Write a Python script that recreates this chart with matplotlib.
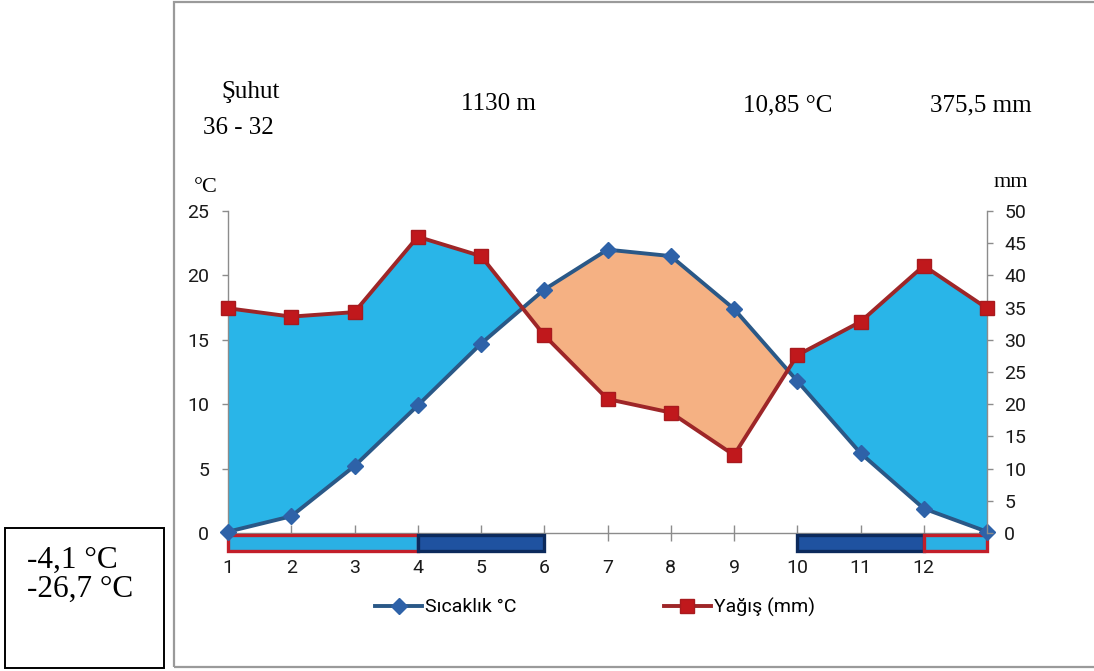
import matplotlib
matplotlib.use("Agg")
import matplotlib.pyplot as plt
from matplotlib.patches import Rectangle
import numpy as np

# Şuhut iklim diyagramı verileri (13. nokta = Ocak, yılı kapatmak için)
aylar = np.arange(1, 14)
sicaklik = [0.1, 1.3, 5.2, 9.9, 14.7, 18.9, 22.0, 21.5, 17.4, 11.8, 6.2, 1.9, 0.1]
yagis = [34.9, 33.6, 34.3, 46.0, 43.0, 30.7, 20.8, 18.7, 12.1, 27.6, 32.8, 41.5, 34.9]
ay_etiketleri = [str(i) for i in range(1, 13)]

# Don dönemleri (alttaki şeritler)
serit_bas = [1, 4, 10, 12]
serit_son = [4, 6, 12, 13]
serit_tur = ["acik", "koyu", "koyu", "acik"]

istasyon = "Şuhut"
koordinat = "36 - 32"
yukselti = "1130 m"
ort_sicaklik = "10,85 °C"
top_yagis = "375,5 mm"
uc_degerler = ["-4,1 °C", "-26,7 °C"]

serif = "Liberation Serif"
sans = "Roboto"
gri = "#8c8c8c"
mavi_dolgu = "#29b5e8"
turuncu_dolgu = "#f5b183"
etiket_boy = 14

fig = plt.figure(figsize=(10.94, 6.71), dpi=100)

# dış çerçeve ve sol kutu
fig.patches.append(Rectangle((174 / 1094, 4 / 671), 1.0, 665 / 671, transform=fig.transFigure,
                             fill=False, edgecolor="#9a9a9a", lw=1.6))
fig.patches.append(Rectangle((5 / 1094, 3 / 671), 159 / 1094, 140 / 671, transform=fig.transFigure,
                             fill=False, edgecolor="black", lw=1.4))

ax = fig.add_axes([228 / 1094, 138 / 671, 759 / 1094, 322 / 671])
ax2 = ax.twinx()

sic = np.array(sicaklik)
yag_olc = np.array(yagis) / 2.0  # yağış, sıcaklık ölçeğinde (1 °C = 2 mm)
ax.fill_between(aylar, sic, yag_olc, where=yag_olc >= sic, interpolate=True,
                color=mavi_dolgu, lw=0, zorder=1)
ax.fill_between(aylar, sic, yag_olc, where=yag_olc <= sic, interpolate=True,
                color=turuncu_dolgu, lw=0, zorder=1)

ax.plot(aylar, sicaklik, color="#2a5887", lw=2.8, marker="D", markersize=8,
        markerfacecolor="#2e62a8", markeredgecolor="#2e62a8", clip_on=False, zorder=4,
        label="Sıcaklık °C")
ax2.plot(aylar, yagis, color="#9e2628", lw=2.8, marker="s", markersize=10.5,
         markerfacecolor="#c0181c", markeredgecolor="#a81a1e", clip_on=False, zorder=4,
         label="Yağış (mm)")

# alt şeritler
for b, s, t in zip(serit_bas, serit_son, serit_tur):
    if t == "acik":
        fc, ec = "#2ab0e4", "#c21f2a"
    else:
        fc, ec = "#1f52a0", "#0c2a5c"
    ax.add_patch(Rectangle((b, -1.4), s - b, 1.25, facecolor=fc, edgecolor=ec,
                           lw=2.4, clip_on=False, zorder=3))

ax.set_xlim(1, 13)
ax.set_ylim(0, 25)
ax2.set_ylim(0, 50)
ax.set_xticks(range(1, 13))
ax.set_xticklabels(ay_etiketleri)
ax.set_yticks(range(0, 26, 5))
ax2.set_yticks(range(0, 51, 5))

for a in (ax, ax2):
    for sp in a.spines.values():
        sp.set_visible(False)
ax.spines["left"].set_visible(True)
ax.spines["bottom"].set_visible(True)
ax2.spines["right"].set_visible(True)
for sp in (ax.spines["left"], ax.spines["bottom"], ax2.spines["right"]):
    sp.set_color(gri)
    sp.set_linewidth(1.0)
ax.spines["bottom"].set_zorder(2.5)

ax.tick_params(axis="x", direction="inout", length=11, width=1, color=gri, pad=13,
               labelsize=etiket_boy, labelcolor="#1a1a1a")
ax.tick_params(axis="y", direction="out", length=4.5, width=1, color=gri, pad=9,
               labelsize=etiket_boy, labelcolor="#1a1a1a")
ax2.tick_params(axis="y", direction="out", length=4.5, width=1, color=gri, pad=8,
                labelsize=etiket_boy, labelcolor="#1a1a1a")
for lab in ax.get_xticklabels() + ax.get_yticklabels() + ax2.get_yticklabels():
    lab.set_fontfamily(sans)

# lejant
h1, l1 = ax.get_legend_handles_labels()
h2, l2 = ax2.get_legend_handles_labels()
leg = fig.legend(h1 + h2, l1 + l2, loc="center", bbox_to_anchor=(595 / 1094, 64 / 671),
                 ncol=2, frameon=False, handlelength=2.4, handletextpad=0.15,
                 columnspacing=7.6, prop={"family": sans, "size": etiket_boy})

# başlık metinleri
def yaz(x, y, s, size=18, ha="center"):
    fig.text(x / 1094, 1 - y / 671, s, ha=ha, va="baseline", fontsize=size, family=serif)

yaz(251, 98, istasyon)
yaz(238, 134, koordinat)
yaz(498, 110, yukselti)
yaz(788, 111, ort_sicaklik)
yaz(981, 111, top_yagis)
yaz(206, 192, "°C", size=16)
yaz(1011, 187, "mm", size=16)
yaz(27, 568, uc_degerler[0], size=22.5, ha="left")
yaz(27, 597, uc_degerler[1], size=22.5, ha="left")

fig.savefig("out.png", dpi=100)
